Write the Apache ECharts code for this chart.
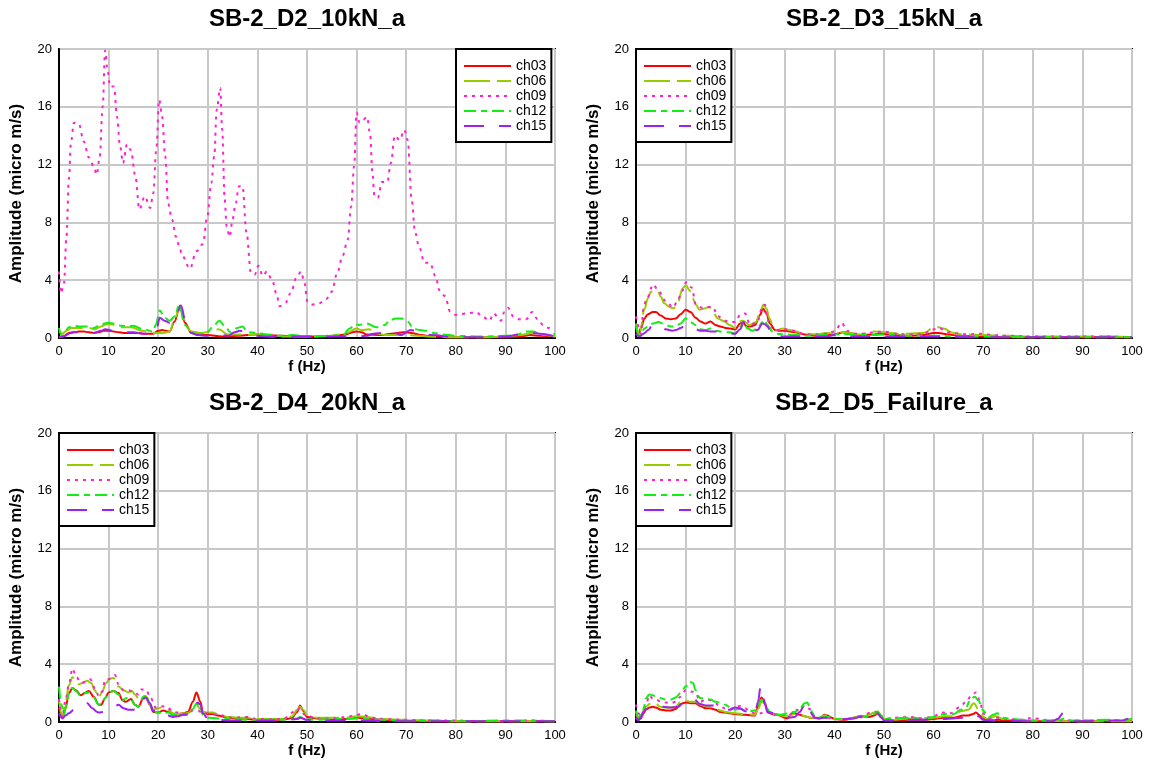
<!DOCTYPE html>
<html>
<head>
<meta charset="utf-8">
<script src="https://cdn.jsdelivr.net/npm/echarts@6/dist/echarts.min.js"></script>
<style>
  html, body { margin: 0; padding: 0; background: #ffffff; }
  #chart { width: 1149px; height: 767px; }
</style>
</head>
<body>
<div id="chart"></div>
<script>
// Channel names and panel titles
const CHANNELS = ['ch03', 'ch06', 'ch09', 'ch12', 'ch15'];
const PANEL_TITLES = ['SB-2_D2_10kN_a', 'SB-2_D3_15kN_a', 'SB-2_D4_20kN_a', 'SB-2_D5_Failure_a'];

// Spectra: [frequency (Hz), amplitude (micro m/s)]
// --- SB-2_D2_10kN_a ---
const d2_ch03 = [[0,0.05],[1,0.15],[2,0.35],[3,0.4],[4,0.45],[5,0.45],[6,0.4],[7,0.35],[8,0.4],[9,0.5],[10,0.5],[11,0.45],[12,0.4],[13,0.35],[14,0.35],[15,0.35],[16,0.35],[17,0.3],[18,0.3],[19,0.3],[20,0.5],[20.8,0.55],[21.5,0.5],[22.3,0.45],[23.3,1.15],[24.4,2.25],[25.4,1.05],[26.7,0.35],[28,0.25],[30,0.2],[32.8,0.1],[36,0.15],[38,0.2],[39.5,0.25],[42,0.2],[45,0.15],[48,0.1],[50,0.1],[54,0.1],[57,0.2],[60,0.45],[61,0.4],[62,0.25],[65,0.2],[67,0.3],[69.5,0.4],[71,0.35],[73,0.2],[75,0.1],[80,0.05],[85,0.05],[90,0.05],[93,0.1],[95,0.2],[97,0.15],[100,0.1]];
const d2_ch06 = [[0,0.45],[0.7,0.3],[1.5,0.5],[2.5,0.7],[4,0.7],[6,0.7],[7.2,0.6],[8.5,0.8],[9.5,0.95],[10.5,0.95],[11.3,0.9],[12.6,0.75],[14.6,0.75],[16.6,0.5],[18,0.45],[19.3,0.35],[21,0.35],[22.3,0.45],[23.4,1.4],[24.4,2.2],[25.5,0.9],[26.7,0.45],[28.7,0.35],[30.7,0.45],[32.2,0.6],[34,0.25],[36.8,0.25],[40,0.2],[43,0.1],[50,0.1],[55,0.15],[58,0.35],[60,0.65],[61,0.55],[62.5,0.6],[64,0.3],[66,0.2],[70,0.2],[75,0.1],[80,0.05],[85,0.05],[90,0.1],[93,0.2],[95.5,0.35],[97,0.25],[100,0.1]];
const d2_ch09 = [[0,4.6],[0.4,3.1],[1,3.8],[1.5,7],[2,11],[2.4,13.5],[3,14.9],[4,14.8],[5,13.6],[6,12.5],[7,11.9],[7.6,11.3],[8.2,12.5],[8.8,16],[9.3,19.9],[9.8,18.5],[10.3,17.4],[11.1,17.4],[11.7,15.3],[12.3,13.3],[12.9,12.1],[13.7,13.4],[14.5,13.0],[15.4,11.2],[16.2,8.9],[17.3,9.8],[18.4,9.0],[19,10],[19.6,13.0],[20.2,16.5],[20.8,15.3],[21.4,12.6],[22,9.3],[22.8,8.2],[23.6,7.0],[24.3,6.3],[24.8,5.7],[26.4,4.8],[27.7,6.0],[29,6.5],[29.9,8.4],[30.7,10.7],[31.3,12.6],[31.8,15.8],[32.5,17.3],[32.9,14.4],[33.4,9.6],[33.8,7.7],[34.4,7.0],[35,8.2],[35.5,9.1],[36.3,10.5],[37,10.5],[37.8,7.3],[38.7,4.5],[39.5,4.4],[40.2,5.0],[41.1,4.3],[41.9,4.6],[43,4.0],[43.8,3.1],[44.5,2.2],[45.6,2.4],[46.7,3.1],[47.9,4.2],[48.8,4.6],[49.5,3.8],[50.1,2.5],[50.9,2.3],[52.4,2.4],[53.9,2.7],[55,3.2],[56.1,4.5],[57.2,5.7],[58.2,6.8],[58.9,9.1],[59.5,11.9],[60,15.6],[60.6,14.9],[61.3,15.1],[62.1,15.3],[62.7,14.2],[63.2,11.4],[63.6,9.8],[64.3,9.7],[65.1,10.8],[66.2,10.8],[66.9,12.1],[67.7,14.0],[68.7,13.7],[69.6,14.4],[70.3,13.7],[71.1,9.6],[71.8,7.3],[72.6,6.3],[73.7,5.2],[74.8,5.2],[75.9,4.3],[76.7,3.3],[77.8,2.9],[78.9,1.8],[80,1.6],[82.3,1.7],[84.1,1.8],[85.3,1.5],[86.8,1.2],[87.6,1.7],[89.1,1.2],[89.8,1.8],[90.5,2.1],[91.6,1.5],[92.7,1.3],[94.2,1.3],[95.4,1.8],[96.5,1.3],[97.6,0.9],[98.7,0.7],[99.9,0.5]];
const d2_ch12 = [[0,0.7],[0.7,0.1],[2,0.75],[3,0.85],[4,0.8],[6,0.8],[7,0.7],[8.5,0.95],[10,1.05],[11,1.0],[12.5,0.85],[14,0.8],[15,0.85],[17,0.6],[19,0.45],[19.5,0.9],[20.3,1.9],[21.3,1.4],[22.3,1.2],[23.4,1.5],[24.2,2.3],[25.4,0.9],[26.7,0.35],[28,0.25],[30,0.45],[31.3,0.9],[32.3,1.2],[33.5,0.8],[34.5,0.4],[36,0.7],[37,0.8],[38,0.4],[40,0.35],[42,0.25],[45,0.15],[47,0.2],[50,0.1],[54,0.15],[57.3,0.2],[58.6,0.65],[59.7,0.95],[60.4,0.9],[62,1.0],[64,0.75],[65.7,0.9],[66.7,1.25],[68,1.35],[69.1,1.35],[70.4,1.1],[71.4,0.65],[72.8,0.55],[74.1,0.5],[75.5,0.35],[77.4,0.25],[80,0.15],[85,0.1],[90,0.15],[92,0.2],[94.2,0.45],[95.6,0.45],[96.9,0.3],[98.3,0.2],[100,0.3]];
const d2_ch15 = [[0,0.05],[1,0.1],[2,0.3],[3,0.4],[5,0.4],[7,0.35],[8.5,0.5],[9.3,0.6],[11,0.5],[13,0.4],[15,0.4],[17,0.3],[19,0.3],[19.8,0.8],[20.3,1.4],[21.3,1.2],[22.3,1.05],[23.4,1.25],[24.6,2.25],[25.7,0.8],[26.7,0.35],[28,0.2],[29.7,0.15],[31.4,0.3],[33,0.2],[34.1,0.15],[35.4,0.4],[36.5,0.5],[37.4,0.4],[38,0.3],[40,0.15],[42,0.1],[50,0.1],[55,0.1],[60,0.1],[62,0.15],[63.4,0.3],[65.5,0.35],[67.4,0.4],[69,0.2],[70.9,0.55],[72,0.5],[73,0.4],[75,0.2],[80,0.05],[85,0.05],[90,0.1],[93,0.25],[95,0.35],[97,0.3],[100,0.1]];

// --- SB-2_D3_15kN_a ---
const d3_ch03 = [[0,0.8],[0.5,0.25],[1,0.7],[1.7,1.35],[2.4,1.65],[3.4,1.8],[4,1.8],[5,1.55],[6,1.35],[7,1.3],[8,1.35],[9,1.65],[10,1.95],[11,1.8],[12,1.4],[13,1.15],[14,1.0],[15,1.15],[16,0.9],[17,0.8],[18,0.7],[19,0.65],[20,0.6],[21,1.0],[21.5,1.1],[22.3,0.8],[23,0.8],[24,0.9],[25,1.6],[25.6,2.05],[26.3,1.7],[27,1.0],[28,0.55],[29,0.5],[30,0.5],[32,0.4],[34,0.25],[36,0.15],[38,0.2],[40,0.25],[42,0.4],[43,0.35],[45,0.2],[48,0.25],[50,0.3],[52,0.2],[55,0.15],[58,0.2],[60,0.35],[61,0.35],[63,0.25],[65,0.15],[70,0.1],[75,0.05],[80,0.05],[90,0.05],[100,0.05]];
const d3_ch06 = [[0,1.0],[0.7,0.2],[1.7,2.0],[2.4,2.75],[3,3.2],[3.7,3.3],[4.4,3.25],[5,2.85],[5.7,2.4],[6.7,2.15],[7.5,2.05],[8.4,2.4],[9.4,3.45],[10.1,3.65],[10.8,3.3],[11.4,2.75],[12.1,2.3],[12.8,1.95],[13.8,2.05],[14.8,2.15],[15.5,1.8],[16.5,1.35],[17.8,1.15],[18.9,0.9],[20,0.7],[21,1.15],[21.5,1.2],[22.9,0.9],[24.2,1.1],[25,1.8],[25.7,2.3],[26.3,2.05],[26.9,1.35],[27.6,0.9],[28.3,0.55],[29.6,0.65],[31,0.55],[32.3,0.45],[33.7,0.3],[36.4,0.25],[38.4,0.35],[40,0.3],[42,0.4],[45,0.25],[48,0.45],[50,0.4],[53,0.3],[55,0.3],[58,0.35],[60,0.7],[61,0.75],[62,0.65],[64,0.35],[66,0.25],[70,0.2],[75,0.15],[80,0.1],[85,0.1],[90,0.1],[95,0.12],[100,0.05]];
const d3_ch09 = [[0,1.5],[1,0.3],[1.5,2.0],[2,2.6],[3.5,3.7],[4.5,3.25],[6,2.55],[7.5,2.1],[8.5,2.7],[9.3,3.25],[10.1,3.85],[11.2,3.5],[12.1,2.3],[13.3,2.1],[14.6,2.15],[15.5,2.15],[16.5,1.5],[18,1.2],[19,1.1],[20,1.1],[21,1.6],[22,1.7],[23,0.9],[24.5,1.15],[25.5,2.2],[26,2.3],[26.5,1.3],[27,0.7],[28,0.55],[30,0.6],[32,0.5],[34,0.25],[36,0.25],[38,0.3],[40,0.45],[41.5,1.05],[42.5,0.5],[44,0.3],[46,0.3],[48,0.4],[50,0.45],[52,0.3],[55,0.25],[58,0.3],[60,0.6],[61,0.7],[63,0.4],[65,0.3],[67,0.25],[70,0.3],[72,0.2],[75,0.15],[80,0.1],[85,0.1],[90,0.1],[95,0.1],[100,0.05]];
const d3_ch12 = [[0,0.9],[0.5,0.2],[1,0.3],[1.7,0.65],[2.7,0.9],[3.4,1.0],[4.5,1.1],[5.5,1.0],[7,0.8],[8,0.8],[9,1.0],[10,1.35],[11,1.1],[12,0.9],[13,0.6],[14,0.55],[15,0.65],[16,0.5],[18,0.4],[19,0.4],[20,0.3],[21,0.8],[21.7,1.1],[22.5,0.65],[23.5,0.5],[24.5,0.65],[25.5,1.1],[26,1.25],[26.5,0.9],[27.5,0.45],[28,0.3],[30,0.25],[32,0.2],[35,0.15],[38,0.2],[40,0.25],[42,0.3],[44,0.2],[48,0.2],[50,0.25],[55,0.15],[60,0.15],[65,0.1],[70,0.1],[80,0.05],[90,0.05],[100,0.05]];
const d3_ch15 = [[0,0.3],[0.7,0.1],[1.5,0.3],[2.5,0.55],[3.3,0.9],[5,0.8],[6,0.6],[7.3,0.5],[8,0.55],[9,0.7],[10,0.9],[11,0.75],[12,0.6],[13,0.5],[14,0.5],[15,0.45],[16,0.45],[17,0.4],[18,0.35],[20,0.3],[21,0.6],[21.7,1.1],[22.5,0.6],[23.5,0.5],[24.5,0.55],[25.5,1.0],[26,0.95],[26.5,0.8],[27,0.55],[27.5,0.2],[28,0.1],[30,0.1],[35,0.1],[38,0.1],[41,0.25],[43,0.1],[50,0.1],[60,0.1],[70,0.05],[80,0.05],[90,0.05],[100,0.05]];

// --- SB-2_D4_20kN_a ---
const d4_ch03 = [[0,1.0],[0.7,0.35],[1.3,0.95],[2,2.0],[2.7,2.35],[3.4,2.2],[4.4,1.85],[5.4,2.05],[6,2.15],[7,1.75],[8,1.2],[8.5,1.2],[9.3,1.65],[10,2.05],[11,2.15],[12,2.0],[12.8,1.5],[13.5,1.4],[14.5,1.6],[15.3,1.2],[16,1.05],[17,1.65],[17.5,1.75],[18.3,1.2],[19,0.7],[20,0.65],[21,0.8],[22,0.7],[23,0.5],[24,0.55],[25,0.6],[26,0.7],[27,1.4],[27.7,2.05],[28.5,1.4],[29,0.7],[30,0.55],[31,0.55],[32,0.45],[34,0.3],[36,0.25],[38,0.2],[40,0.15],[44,0.15],[46,0.2],[47,0.3],[48,0.7],[48.6,1.15],[49.3,0.75],[50,0.35],[52,0.25],[55,0.15],[58,0.2],[60,0.3],[62,0.25],[65,0.15],[70,0.05],[80,0.05],[90,0.05],[100,0.05]];
const d4_ch06 = [[0,1.5],[0.7,0.4],[1.3,1.3],[2,2.55],[2.7,3.1],[3.4,2.9],[4,2.6],[4.7,2.7],[5.7,2.85],[6.5,2.7],[7.2,2.2],[8,1.7],[8.7,2.1],[9.5,2.7],[10.3,3.0],[11,3.05],[12,2.45],[13,2.2],[14,2.05],[14.7,2.15],[15.3,1.9],[16,1.65],[17,1.75],[17.5,1.8],[18.3,1.2],[19,0.85],[20,0.95],[21,1.05],[22,0.85],[23,0.6],[24,0.55],[25,0.6],[26,0.6],[27,0.85],[27.7,1.2],[28.5,0.9],[29,0.7],[30,0.65],[31,0.65],[32,0.55],[34,0.35],[36,0.3],[38,0.3],[40,0.2],[44,0.2],[46,0.25],[47,0.4],[48,0.85],[48.6,1.05],[49.3,0.85],[50,0.45],[52,0.3],[55,0.3],[58,0.3],[60,0.4],[62,0.35],[65,0.2],[70,0.15],[75,0.1],[80,0.05],[90,0.05],[100,0.05]];
const d4_ch09 = [[0,1.6],[0.7,0.3],[1.3,1.5],[2,2.6],[2.7,3.7],[3.5,3.1],[4.5,2.7],[5.5,2.8],[6.3,2.95],[7.3,2.3],[8,1.8],[8.7,2.1],[9.3,2.9],[10.3,3.0],[11.3,3.25],[12,2.6],[13,2.2],[14,2.2],[15,2.1],[16,1.9],[16.5,2.25],[17.5,2.25],[18.5,1.65],[19.5,1.0],[20.5,1.1],[21.8,1.05],[23,0.7],[24,0.65],[25,0.55],[26,0.6],[27,0.8],[28,0.8],[29,0.6],[30,0.6],[32,0.5],[35,0.3],[38,0.35],[40,0.2],[45,0.2],[48,0.8],[48.6,0.95],[49.5,0.5],[52,0.25],[55,0.25],[58,0.35],[60,0.5],[61,0.55],[63,0.3],[66,0.2],[70,0.15],[75,0.1],[80,0.1],[85,0.05],[90,0.05],[95,0.1],[100,0.05]];
const d4_ch12 = [[0,2.45],[0.5,1.2],[1,0.5],[1.5,1.15],[2,2.0],[2.7,2.35],[3.4,2.15],[4.4,1.8],[5.4,2.0],[6,2.05],[7,1.7],[8,1.2],[8.5,1.25],[9.3,1.65],[10,2.05],[11,2.15],[12,1.9],[12.8,1.5],[13.5,1.65],[14.5,1.6],[15.3,1.2],[16,1.05],[17,1.75],[17.5,1.9],[18.3,1.3],[19,0.7],[20,0.65],[21,0.6],[22,0.65],[23,0.5],[24,0.45],[25,0.5],[26,0.55],[27,0.9],[27.7,1.3],[28.5,1.0],[29,0.5],[30,0.3],[32,0.25],[35,0.2],[38,0.15],[45,0.15],[47,0.2],[48,0.25],[48.6,0.35],[49.5,0.2],[52,0.15],[55,0.2],[58,0.2],[60,0.25],[62,0.2],[65,0.15],[70,0.1],[75,0.1],[80,0.05],[90,0.1],[95,0.1],[100,0.05]];
const d4_ch15 = [[0,0.6],[0.7,0.25],[1.3,0.45],[2,0.6],[3,0.85],[4,1.05],[5,1.2],[5.7,1.3],[6.7,0.95],[7.7,0.7],[8,0.65],[9,0.7],[10,0.9],[11,1.0],[12,1.2],[13,0.95],[14,0.85],[15,0.85],[16,0.9],[17,1.6],[17.5,1.7],[18.3,1.3],[19,0.8],[20,0.5],[21,0.5],[22,0.45],[23,0.35],[24,0.4],[25,0.5],[26,0.5],[27,0.8],[28,1.35],[28.5,1.2],[29,0.6],[30,0.25],[32,0.15],[35,0.1],[45,0.1],[48,0.2],[48.6,0.3],[50,0.15],[55,0.1],[60,0.1],[70,0.05],[80,0.05],[90,0.05],[100,0.05]];

// --- SB-2_D5_Failure_a ---
const d5_ch03 = [[0,0.5],[0.5,0.2],[1,0.25],[1.5,0.6],[2,0.85],[2.7,1.0],[3.4,1.05],[4,1.0],[5,0.85],[6,0.8],[7,0.8],[8,0.9],[9,1.25],[10,1.35],[11,1.3],[12,1.3],[13,1.1],[14,0.95],[15,0.95],[16,0.85],[17,0.7],[18,0.65],[19,0.6],[20,0.55],[22,0.5],[24,0.45],[24.6,1.05],[25.3,1.7],[25.9,1.4],[26.5,0.85],[27,0.6],[28,0.5],[29,0.45],[30,0.3],[30.5,0.25],[31.3,0.55],[32,0.6],[33,0.5],[34,0.4],[35,0.3],[37,0.25],[38,0.5],[38.5,0.45],[39.5,0.3],[40,0.2],[42,0.15],[43,0.2],[44,0.3],[45,0.4],[47,0.35],[48,0.45],[48.7,0.6],[49.5,0.3],[50,0.15],[52,0.1],[55,0.15],[58,0.15],[60,0.2],[62,0.3],[64,0.3],[66,0.45],[67,0.45],[68,0.55],[68.5,0.65],[69.5,0.4],[70,0.2],[72,0.1],[73,0.15],[75,0.1],[80,0.05],[90,0.05],[100,0.05]];
const d5_ch06 = [[0,0.7],[0.5,0.3],[1,0.35],[1.5,0.8],[2,1.05],[2.7,1.25],[3.4,1.35],[4,1.25],[5,1.05],[6,1.0],[7,1.0],[8,1.05],[9,1.4],[10,1.5],[11,1.4],[12,1.4],[13,1.2],[14,1.1],[15,1.05],[16,0.95],[17,0.8],[18,0.7],[19,0.65],[20,0.6],[22,0.55],[24,0.5],[24.6,0.9],[25.3,1.4],[25.9,1.3],[26.5,0.9],[27,0.7],[28,0.55],[29,0.5],[30,0.4],[31,0.45],[32,0.55],[33,0.5],[34,0.4],[35,0.3],[37,0.3],[38,0.45],[39,0.35],[40,0.2],[42,0.2],[44,0.3],[45,0.4],[46,0.45],[47,0.5],[48,0.65],[48.7,0.75],[49.5,0.45],[50,0.2],[52,0.15],[55,0.25],[58,0.2],[60,0.3],[62,0.4],[64,0.4],[65.5,0.75],[67,0.85],[68.1,1.3],[69.2,0.8],[70,0.35],[71,0.2],[72.5,0.4],[74,0.2],[76,0.15],[80,0.1],[90,0.05],[100,0.05]];
const d5_ch09 = [[0,1.2],[0.5,0.6],[1,0.3],[2,1.2],[2.7,1.85],[3.4,1.6],[4,1.55],[5,1.4],[6,1.35],[7,1.3],[8,1.4],[9,1.75],[10,2.2],[10.8,2.1],[11.5,2.1],[12,2.0],[13,1.4],[14,1.55],[15,1.5],[16,1.3],[17,1.05],[18,0.95],[19,0.9],[20,1.05],[21,1.1],[22,0.95],[23,0.7],[24,0.6],[25.2,0.6],[26,0.8],[27,0.6],[28,0.55],[29,0.5],[30,0.5],[31,0.5],[32,0.85],[33,0.8],[34,1.15],[35,0.9],[36,0.4],[37,0.3],[38,0.35],[40,0.2],[42,0.2],[44,0.3],[45,0.4],[48,0.7],[48.7,0.7],[50,0.2],[52,0.3],[55,0.35],[58,0.25],[60,0.4],[61.7,0.65],[63.4,0.6],[65.4,1.05],[66.5,1.4],[67.6,1.8],[68.5,2.05],[69.3,1.5],[70,0.6],[71,0.25],[73,0.3],[75,0.2],[78,0.15],[80,0.3],[82,0.15],[85,0.1],[90,0.1],[95,0.1],[100,0.1]];
const d5_ch12 = [[0,0.8],[0.5,0.3],[1,0.5],[1.5,0.9],[2,1.65],[2.7,1.9],[3.4,1.85],[4,1.75],[5,1.65],[6,1.55],[7,1.55],[8,1.7],[9,2.0],[10,2.45],[10.8,2.8],[11.5,2.7],[12,2.2],[12.5,1.8],[13,1.65],[14,1.65],[15,1.55],[16,1.4],[17,1.35],[18,1.2],[19,1.0],[20,0.85],[21,0.9],[22,0.8],[23,0.75],[24,0.8],[24.6,1.2],[25.3,1.55],[25.9,1.35],[26.5,0.9],[27,0.65],[28,0.55],[29,0.5],[30,0.55],[31,0.7],[32,0.7],[33,0.9],[34,1.3],[34.5,1.35],[35,1.1],[35.5,0.7],[36,0.4],[37,0.3],[38,0.35],[39,0.35],[40,0.2],[42,0.2],[44,0.3],[46,0.35],[47,0.4],[48,0.55],[48.7,0.7],[49.5,0.4],[50,0.15],[51,0.25],[55,0.3],[58,0.25],[60,0.35],[62,0.55],[64,0.55],[65.5,0.85],[66.5,1.0],[67.5,1.6],[68.3,1.75],[69,1.5],[70,0.8],[71,0.3],[72,0.5],[72.8,0.6],[74,0.3],[76,0.2],[78,0.15],[80,0.1],[85,0.1],[86.5,0.25],[88,0.1],[90,0.1],[95,0.15],[98,0.1],[100,0.25]];
const d5_ch15 = [[0,0.3],[0.5,0.1],[1,0.35],[1.5,0.7],[2,0.9],[3,1.05],[4,1.1],[5.5,1.05],[7,1.0],[8.5,1.05],[9.5,1.3],[10.5,1.35],[11.8,1.55],[12.9,1.25],[14,1.15],[15,1.15],[16,1.15],[17,1.0],[18,0.9],[19,0.85],[20,1.0],[21,0.95],[22,0.75],[23,0.6],[24,0.55],[24.6,1.4],[25.1,2.4],[25.4,2.45],[26,1.2],[26.5,0.7],[27,0.65],[28,0.6],[29,0.5],[30,0.4],[31,0.3],[32,0.35],[33,0.7],[34,1.2],[34.5,1.25],[35,0.9],[35.5,0.5],[36,0.3],[37,0.25],[38,0.3],[40,0.2],[42,0.2],[44,0.25],[45,0.35],[46,0.3],[47,0.35],[48,0.5],[48.7,0.6],[49.5,0.3],[50,0.1],[52,0.1],[55,0.15],[58,0.15],[60,0.25],[62,0.2],[64,0.25],[66,0.3],[67,0.4],[68.3,0.5],[69,0.4],[70,0.15],[72,0.1],[75,0.1],[80,0.05],[84,0.05],[85,0.2],[86.2,0.65],[87,0.3],[88,0.05],[90,0.05],[95,0.1],[98,0.1],[99,0.2],[99.5,0.5],[100,0.95]];

const PANEL_DATA = [
  [d2_ch03, d2_ch06, d2_ch09, d2_ch12, d2_ch15],
  [d3_ch03, d3_ch06, d3_ch09, d3_ch12, d3_ch15],
  [d4_ch03, d4_ch06, d4_ch09, d4_ch12, d4_ch15],
  [d5_ch03, d5_ch06, d5_ch09, d5_ch12, d5_ch15]
];

// Line look for each channel
const CHANNEL_COLORS = ['#ff0000', '#99cc00', '#ff22cc', '#11ee11', '#a020f0'];
const CHANNEL_DASHES = ['solid', [26, 7], [3, 5], [12, 5, 6, 5], [20, 15]];

// Plot rectangles (pixels) and legend corners
const PLOT_W = 496, PLOT_H = 289;
const PANEL_POS = [
  { left: 59,  top: 49,  legendLeft: 456 },
  { left: 636, top: 49,  legendLeft: 636 },
  { left: 59,  top: 433, legendLeft: 59 },
  { left: 636, top: 433, legendLeft: 636 }
];

const FONT = '"Liberation Sans", Arial, Helvetica, sans-serif';

const option = {
  animation: false,
  backgroundColor: '#ffffff',
  title: [], grid: [], xAxis: [], yAxis: [], legend: [], series: []
};

PANEL_POS.forEach((p, i) => {
  option.title.push({
    text: PANEL_TITLES[i],
    left: p.left + PLOT_W / 2,
    textAlign: 'center',
    top: p.top - 42,
    padding: 0,
    textStyle: { fontFamily: FONT, fontSize: 24, fontWeight: 'bold', color: '#000' }
  });
  option.grid.push({
    left: p.left, top: p.top, width: PLOT_W, height: PLOT_H,
    show: true, borderColor: '#000', borderWidth: 2, backgroundColor: '#fff'
  });
  option.xAxis.push({
    type: 'value', gridIndex: i, min: 0, max: 100, interval: 10,
    name: 'f (Hz)', nameLocation: 'middle', nameGap: 20,
    nameTextStyle: { fontFamily: FONT, fontSize: 15, fontWeight: 'bold', color: '#000' },
    axisLine: { show: true, onZero: false, lineStyle: { color: '#000', width: 2 } },
    axisTick: { show: false },
    axisLabel: { fontFamily: FONT, fontSize: 13, color: '#000', margin: 7 },
    splitLine: { show: true, lineStyle: { color: '#c8c8c8', width: 2 } }
  });
  option.yAxis.push({
    type: 'value', gridIndex: i, min: 0, max: 20, interval: 4,
    name: 'Amplitude (micro m/s)', nameLocation: 'middle', nameGap: 34,
    nameTextStyle: { fontFamily: FONT, fontSize: 17, fontWeight: 'bold', color: '#000' },
    axisLine: { show: true, onZero: false, lineStyle: { color: '#000', width: 2 } },
    axisTick: { show: false },
    axisLabel: { fontFamily: FONT, fontSize: 13, color: '#000', margin: 7 },
    splitLine: { show: true, lineStyle: { color: '#c8c8c8', width: 2 } }
  });
  CHANNELS.forEach((ch, k) => {
    option.series.push({
      type: 'line', name: ch, xAxisIndex: i, yAxisIndex: i,
      data: PANEL_DATA[i][k],
      symbol: 'none', smooth: 0.35, smoothMonotone: 'x',
      color: CHANNEL_COLORS[k],
      lineStyle: { color: CHANNEL_COLORS[k], width: 2, type: CHANNEL_DASHES[k] },
      z: 2 + k
    });
  });
  option.legend.push({
    orient: 'vertical', left: p.legendLeft, top: p.top,
    data: CHANNELS,
    backgroundColor: '#fff', borderColor: '#000', borderWidth: 2,
    padding: [10, 5, 9, 7],
    itemWidth: 47, itemHeight: 10, itemGap: 1,
    itemStyle: { opacity: 0 },
    selectedMode: false,
    textStyle: { fontFamily: FONT, fontSize: 14, color: '#000' },
    z: 10
  });
});

const chart = echarts.init(document.getElementById('chart'), null, { renderer: 'canvas' });
chart.setOption(option);
</script>
</body>
</html>
